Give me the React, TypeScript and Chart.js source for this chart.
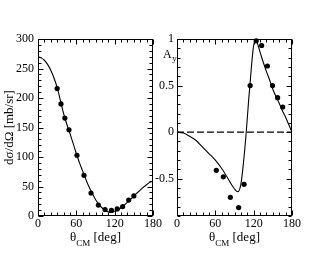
import React, { useEffect, useRef } from "react";
import { Chart, registerables } from "chart.js";

Chart.register(...registerables);

// ---------- data ----------
const xTicks = [0, 60, 120, 180];
const csTicks = [0, 50, 100, 150, 200, 250, 300];
const ayTicks = [-0.5, 0, 0.5, 1];

// cross section: measured points
const csDataTheta = [30, 36, 42, 48.5, 61, 72, 83, 94.5, 105, 115, 124, 132.5, 142, 150];
const csDataValue = [216, 190, 166, 146, 103, 69, 39, 18.5, 11, 9.5, 12, 16, 27, 34];
// cross section: theory curve
const csCurveTheta = [0, 5, 10, 15, 20, 25, 30, 35, 40, 45, 50, 55, 60, 65, 70, 75, 80, 85, 90, 95, 100, 105, 110, 115, 120, 125, 130, 135, 140, 145, 150, 155, 160, 165, 170, 175, 180];
const csCurveValue = [270, 268, 264, 257, 247, 234, 218, 196, 174, 156, 140, 123, 106, 90, 76, 62, 49, 38, 28, 20, 14, 10, 7, 6.5, 8, 10.5, 14, 18.5, 23.5, 28.5, 34, 39, 44, 49, 53, 57, 59];

// analysing power: measured points
const ayDataTheta = [61.5, 72.5, 83.5, 96.5, 105, 114.5, 124, 132.5, 141.5, 149.5, 157.5, 165.5];
const ayDataValue = [-0.41, -0.48, -0.7, -0.81, -0.56, 0.5, 0.98, 0.93, 0.71, 0.5, 0.37, 0.27];
// analysing power: theory curve
const ayCurveTheta = [0, 10, 20, 30, 40, 50, 60, 70, 80, 85, 90, 95, 100, 104, 108, 112, 116, 119, 122, 125, 130, 135, 140, 145, 150, 155, 160, 165, 170, 175, 180];
const ayCurveValue = [0, -0.01, -0.045, -0.09, -0.16, -0.23, -0.3, -0.39, -0.5, -0.56, -0.61, -0.64, -0.56, -0.33, -0.03, 0.33, 0.66, 0.88, 0.99, 0.97, 0.86, 0.75, 0.65, 0.56, 0.46, 0.38, 0.31, 0.23, 0.16, 0.08, 0];

const zeroLineTheta = [0, 180];
const zeroLineValue = [0, 0];

// ---------- helpers ----------
const FONT = "'Liberation Serif', 'Times New Roman', serif";

const pts = (xs: number[], ys: number[]) => xs.map((x, i) => ({ x, y: ys[i] }));

const framePlugin = {
  id: "frame",
  afterDatasetsDraw(chart: any, _args: any, opts: any) {
    const { ctx, chartArea: a, scales } = chart;
    const xs = scales.x;
    const ys = scales.y;
    ctx.save();
    ctx.strokeStyle = "#000";
    ctx.lineWidth = 1;
    const L = Math.round(a.left) + 0.5;
    const R = Math.round(a.right) - 0.5;
    const T = Math.round(a.top) + 0.5;
    const B = Math.round(a.bottom) - 0.5;
    ctx.strokeRect(L, T, R - L, B - T);
    ctx.beginPath();
    const nx = Math.round((xs.max - xs.min) / opts.xMinor);
    for (let i = 0; i <= nx; i++) {
      const v = xs.min + i * opts.xMinor;
      const q = v / opts.xMajor;
      const major = Math.abs(q - Math.round(q)) < 1e-6;
      const len = major ? 5 : 3;
      const px = Math.round(xs.getPixelForValue(v)) + 0.5;
      ctx.moveTo(px, B);
      ctx.lineTo(px, B - len);
      ctx.moveTo(px, T);
      ctx.lineTo(px, T + len);
    }
    const ny = Math.round((ys.max - ys.min) / opts.yMinor);
    for (let i = 0; i <= ny; i++) {
      const v = ys.min + i * opts.yMinor;
      const q = v / opts.yMajor;
      const major = Math.abs(q - Math.round(q)) < 1e-6;
      const len = major ? 5 : 3;
      const py = Math.round(ys.getPixelForValue(v)) + 0.5;
      ctx.moveTo(L, py);
      ctx.lineTo(L + len, py);
      ctx.moveTo(R, py);
      ctx.lineTo(R - len, py);
    }
    ctx.stroke();
    ctx.restore();
  },
  afterDraw(chart: any, _args: any, opts: any) {
    const { ctx, chartArea: a } = chart;
    ctx.save();
    ctx.fillStyle = "#000";
    ctx.textBaseline = "alphabetic";
    ctx.textAlign = "left";
    // x title: θ_CM [deg]
    const mainF = `13px ${FONT}`;
    const subF = `9px ${FONT}`;
    ctx.font = mainF;
    const w1 = ctx.measureText("θ").width;
    const w3 = ctx.measureText(" [deg]").width;
    ctx.font = subF;
    const w2 = ctx.measureText("CM").width;
    const cx = (a.left + a.right) / 2;
    let x = cx - (w1 + w2 + w3) / 2;
    const base = 241;
    ctx.font = mainF;
    ctx.fillText("θ", x, base);
    x += w1;
    ctx.font = subF;
    ctx.fillText("CM", x, base + 4.5);
    x += w2;
    ctx.font = mainF;
    ctx.fillText(" [deg]", x, base);
    if (opts.ayLabel) {
      ctx.font = `12px ${FONT}`;
      ctx.fillText("A", opts.ayX, 57.5);
      const wa = ctx.measureText("A").width;
      ctx.font = subF;
      ctx.fillText("y", opts.ayX + wa + 0.5, 61);
    }
    ctx.restore();
  },
};

const tickFont = { family: FONT, size: 12 };

function makeXScale() {
  return {
    type: "linear",
    min: 0,
    max: 180,
    afterBuildTicks: (s: any) => {
      s.ticks = xTicks.map((v) => ({ value: v }));
    },
    afterFit: (s: any) => {
      s.height = 39;
    },
    grid: { display: false, drawTicks: false },
    border: { display: false },
    ticks: { color: "#000", font: tickFont, padding: 1, maxRotation: 0, autoSkip: false, callback: (v: any) => `${v}` },
  };
}

function PanelChart({ config, style }: { config: any; style: any }) {
  const ref = useRef<HTMLCanvasElement | null>(null);
  useEffect(() => {
    if (!ref.current) return;
    const chart = new Chart(ref.current, config);
    return () => chart.destroy();
  }, []);
  return <canvas ref={ref} width={style.width} height={style.height} style={style} />;
}

const leftConfig: any = {
  type: "scatter",
  data: {
    datasets: [
      {
        data: pts(csCurveTheta, csCurveValue),
        showLine: true,
        borderColor: "#000",
        borderWidth: 1.1,
        pointRadius: 0,
        cubicInterpolationMode: "monotone",
      },
      {
        data: pts(csDataTheta, csDataValue),
        backgroundColor: "#000",
        borderColor: "#000",
        pointRadius: 2.6,
        borderWidth: 0,
        clip: false,
      },
    ],
  },
  options: {
    responsive: false,
    animation: false,
    devicePixelRatio: 1,
    layout: { padding: { left: 0, right: 12, top: 39, bottom: 0 } },
    plugins: {
      legend: { display: false },
      tooltip: { enabled: false },
      frame: { xMinor: 10, xMajor: 60, yMinor: 10, yMajor: 50, ayLabel: false },
    },
    scales: {
      x: makeXScale(),
      y: {
        type: "linear",
        min: 0,
        max: 300,
        afterBuildTicks: (s: any) => {
          s.ticks = csTicks.map((v) => ({ value: v }));
        },
        afterFit: (s: any) => {
          s.width = 38;
        },
        grid: { display: false, drawTicks: false },
        border: { display: false },
        ticks: { color: "#000", font: tickFont, padding: 4, callback: (v: any) => `${v}` },
        title: {
          display: true,
          text: "dσ/dΩ [mb/sr]",
          color: "#000",
          font: { family: FONT, size: 13 },
          padding: { top: 2, bottom: 0 },
        },
      },
    },
  },
  plugins: [framePlugin],
};

const rightConfig: any = {
  type: "scatter",
  data: {
    datasets: [
      {
        data: pts(zeroLineTheta, zeroLineValue),
        showLine: true,
        borderColor: "#000",
        borderWidth: 1.1,
        borderDash: [7, 3],
        pointRadius: 0,
      },
      {
        data: pts(ayCurveTheta, ayCurveValue),
        showLine: true,
        borderColor: "#000",
        borderWidth: 1.1,
        pointRadius: 0,
        cubicInterpolationMode: "monotone",
      },
      {
        data: pts(ayDataTheta, ayDataValue),
        backgroundColor: "#000",
        borderColor: "#000",
        pointRadius: 2.6,
        borderWidth: 0,
        clip: false,
      },
    ],
  },
  options: {
    responsive: false,
    animation: false,
    devicePixelRatio: 1,
    layout: { padding: { left: 0, right: 38, top: 39, bottom: 0 } },
    plugins: {
      legend: { display: false },
      tooltip: { enabled: false },
      frame: { xMinor: 10, xMajor: 60, yMinor: 0.1, yMajor: 0.5, ayLabel: true, ayX: 23 },
    },
    scales: {
      x: makeXScale(),
      y: {
        type: "linear",
        min: -0.9,
        max: 1,
        afterBuildTicks: (s: any) => {
          s.ticks = ayTicks.map((v) => ({ value: v }));
        },
        afterFit: (s: any) => {
          s.width = 37;
        },
        grid: { display: false, drawTicks: false },
        border: { display: false },
        ticks: { color: "#000", font: tickFont, padding: 3, callback: (v: any) => `${v}` },
      },
    },
  },
  plugins: [framePlugin],
};

export default function App() {
  return (
    <div style={{ position: "absolute", left: 0, top: 0, width: 330, height: 255, background: "#fff" }}>
      <PanelChart config={leftConfig} style={{ position: "absolute", left: 0, top: 0, width: 165, height: 255 }} />
      <PanelChart config={rightConfig} style={{ position: "absolute", left: 140, top: 0, width: 190, height: 255 }} />
    </div>
  );
}
